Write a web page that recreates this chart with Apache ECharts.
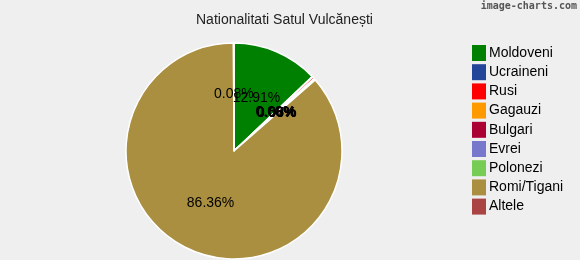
<!DOCTYPE html>
<html><head><meta charset="utf-8">
<script src="https://cdn.jsdelivr.net/npm/echarts@6/dist/echarts.min.js"></script>
<style>html,body{margin:0;padding:0;background:#efefef}#c{width:580px;height:260px}</style>
</head><body><div id="c"></div>
<script>
const categories = ["Moldoveni","Ucraineni","Rusi","Gagauzi","Bulgari","Evrei","Polonezi","Romi/Tigani","Altele"];
const values = [12.91, 0.08, 0.30, 0.08, 0.06, 0.06, 0.07, 86.36, 0.08];
const colors = ["#008000","#224499","#ff0000","#ff9900","#aa0033","#7777cc","#77cc55","#aa8f40","#aa4444"];
const titleText = "Nationalitati Satul Vulcănești";

const chart = echarts.init(document.getElementById('c'), null, {renderer:'canvas'});
chart.setOption({
  backgroundColor: '#efefef',
  animation: false,
  color: colors,
  title: {
    text: titleText, left: 196, top: 13, padding: 0,
    textStyle: {fontFamily: 'Liberation Sans, Arial', fontSize: 14, fontWeight: 'normal', color: '#222'}
  },
  graphic: [{
    type: 'text', right: 3, top: 1,
    style: {text: 'image-charts.com', font: 'bold 10px DejaVu Sans Mono', fill: '#555'}
  }],
  legend: {
    orient: 'vertical', left: 467, top: 40,
    itemWidth: 14, itemHeight: 16, itemGap: 3.2,
    icon: 'rect',
    itemStyle: {borderWidth: 0},
    textStyle: {fontFamily: 'Liberation Sans, Arial', fontSize: 14, lineHeight: 16, color: '#000', padding: [0,0,0,-2]},
    data: categories
  },
  series: [{
    type: 'pie',
    center: [234, 151],
    radius: [0, 108],
    startAngle: 90,
    clockwise: true,
    avoidLabelOverlap: false,
    minShowLabelAngle: 0,
    itemStyle: {borderColor: '#ffffff', borderWidth: 1.5},
    label: {
      show: true, position: 'inside',
      formatter: p => p.value.toFixed(2) + '%',
      fontFamily: 'Liberation Sans, Arial', fontSize: 14, color: '#000',
      textBorderWidth: 0
    },
    labelLayout: {hideOverlap: false},
    labelLine: {show: false},
    emphasis: {disabled: true},
    data: categories.map((c, i) => ({name: c, value: values[i]}))
  }]
});
</script></body></html>
